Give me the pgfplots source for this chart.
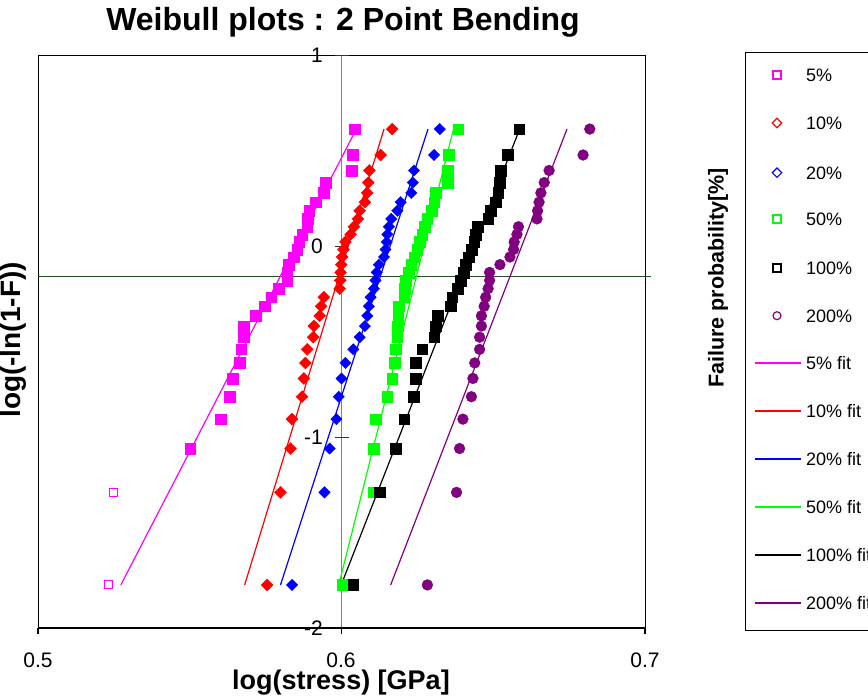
\documentclass[border=0pt]{standalone}
\usepackage{pgfplots}
\pgfplotsset{compat=1.18}
\usepackage{pgfplotstable}
\usepackage{fontspec}
\setmainfont{Liberation Sans}
\definecolor{cmag}{RGB}{255,0,255}
\definecolor{cred}{RGB}{255,0,0}
\definecolor{cblue}{RGB}{0,0,255}
\definecolor{cgreen}{RGB}{0,255,0}
\definecolor{cpurp}{RGB}{128,0,128}
\definecolor{cline}{RGB}{38,77,38}
\definecolor{caxis}{RGB}{128,128,128}

\pgfplotstableread{
i y x5 x10 x20 x50 x100 x200
1 -1.7745 0.5232 0.5755 0.5837 0.6002 0.6039 0.6283
2 -1.2900 0.5249 0.5799 0.5944 0.6105 0.6126 0.6379
3 -1.0604 0.5502 0.5832 0.5961 0.6107 0.6178 0.6389
4 -0.9064 0.5602 0.5837 0.5983 0.6112 0.6206 0.6400
5 -0.7891 0.5631 0.5870 0.5991 0.6151 0.6237 0.6428
6 -0.6935 0.5641 0.5876 0.6000 0.6167 0.6244 0.6433
7 -0.6122 0.5664 0.5881 0.6013 0.6175 0.6244 0.6439
8 -0.5411 0.5669 0.5887 0.6039 0.6178 0.6266 0.6455
9 -0.4774 0.5678 0.5907 0.6060 0.6184 0.6305 0.6455
10 -0.4193 0.5678 0.5909 0.6077 0.6186 0.6310 0.6461
11 -0.3657 0.5718 0.5928 0.6085 0.6187 0.6316 0.6461
12 -0.3157 0.5747 0.5933 0.6090 0.6189 0.6360 0.6470
13 -0.2684 0.5768 0.5942 0.6096 0.6206 0.6365 0.6475
14 -0.2234 0.5793 0.5994 0.6107 0.6209 0.6382 0.6483
15 -0.1802 0.5821 0.5996 0.6112 0.6211 0.6393 0.6488
16 -0.1384 0.5821 0.5997 0.6116 0.6222 0.6402 0.6488
17 -0.0977 0.5826 0.5999 0.6123 0.6230 0.6409 0.6522
18 -0.0578 0.5843 0.6002 0.6140 0.6239 0.6420 0.6555
19 -0.0183 0.5854 0.6006 0.6145 0.6250 0.6428 0.6567
20 0.0211 0.5861 0.6013 0.6149 0.6258 0.6437 0.6569
21 0.0607 0.5870 0.6030 0.6151 0.6266 0.6442 0.6578
22 0.1008 0.5887 0.6041 0.6156 0.6274 0.6448 0.6583
23 0.1419 0.5889 0.6054 0.6164 0.6283 0.6483 0.6644
24 0.1845 0.5894 0.6060 0.6184 0.6297 0.6492 0.6646
25 0.2295 0.5914 0.6077 0.6195 0.6305 0.6508 0.6651
26 0.2781 0.5942 0.6085 0.6230 0.6310 0.6516 0.6657
27 0.3321 0.5947 0.6088 0.6235 0.6349 0.6522 0.6668
28 0.3953 0.6033 0.6092 0.6239 0.6349 0.6525 0.6684
29 0.4765 0.6037 0.6129 0.6305 0.6354 0.6547 0.6796
30 0.6122 0.6043 0.6167 0.6324 0.6385 0.6585 0.6818
}\datatable

\pgfplotstableread{
x y
0.5232 -1.7745
0.5249 -1.2900
}\openfive

\pgfplotstableread{
y f5 f10 f20 f50 f100 f200
-1.7745 0.5273 0.5681 0.5799 0.5991 0.5999 0.6162
0.6122 0.6049 0.6140 0.6285 0.6369 0.6587 0.6743
}\fits

\begin{document}
\begin{tikzpicture}
\path[use as bounding box] (0pt,0pt) rectangle (868pt,697pt);
\begin{axis}[
  at={(38pt,69pt)}, anchor=south west,
  scale only axis, width=607pt, height=573pt,
  xmin=0.5, xmax=0.7, ymin=-2, ymax=1,
  xtick=\empty, ytick=\empty,
  axis line style={black, line width=0.8pt},
  clip=false,
]
% 50% failure line
\addplot[draw=cline, line width=1.6pt] coordinates {(0.5,-0.15917) (0.702,-0.15917)};
% y axis at 0.6
\draw[caxis, line width=1.5pt] (axis cs:0.6,-2) -- (axis cs:0.6,1);
\draw[black!80, line width=0.9pt] ([xshift=-7pt]axis cs:0.6,1) -- ([xshift=7pt]axis cs:0.6,1);
\draw[black!80, line width=0.9pt] ([xshift=-7pt]axis cs:0.6,0) -- ([xshift=7pt]axis cs:0.6,0);
\draw[black!80, line width=0.9pt] ([xshift=-7pt]axis cs:0.6,-1) -- ([xshift=7pt]axis cs:0.6,-1);
\draw[black!80, line width=0.9pt] ([xshift=-7pt]axis cs:0.6,-2) -- ([xshift=7pt]axis cs:0.6,-2);

% data
\addplot[only marks, mark=square*, mark size=5.3pt, mark options={fill=cmag, draw=cmag}]
  table[x=x5, y=y, skip coords between index={0}{2}] {\datatable};
\addplot[only marks, mark=square, mark size=4pt, mark options={draw=cmag, fill=white}, line width=1pt]
  table[x=x, y=y] {\openfive};
\addplot[only marks, mark=square*, mark size=4.2pt, mark options={rotate=45, fill=cred, draw=cred}]
  table[x=x10, y=y] {\datatable};
\addplot[only marks, mark=square*, mark size=4pt, mark options={rotate=45, fill=cblue, draw=cblue}]
  table[x=x20, y=y] {\datatable};
\addplot[only marks, mark=square*, mark size=5.3pt, mark options={fill=cgreen, draw=cgreen}]
  table[x=x50, y=y] {\datatable};
\addplot[only marks, mark=square*, mark size=5.3pt, mark options={fill=black, draw=black}]
  table[x=x100, y=y] {\datatable};
\addplot[only marks, mark=*, mark size=5.4pt, mark options={fill=cpurp, draw=cpurp}]
  table[x=x200, y=y] {\datatable};

% fits
\addplot[no marks, color=cmag, line width=1.2pt] table[x=f5, y=y] {\fits};
\addplot[no marks, color=cred, line width=1.2pt] table[x=f10, y=y] {\fits};
\addplot[no marks, color=cblue, line width=1.2pt] table[x=f20, y=y] {\fits};
\addplot[no marks, color=cgreen, line width=1.2pt] table[x=f50, y=y] {\fits};
\addplot[no marks, color=black, line width=1.2pt] table[x=f100, y=y] {\fits};
\addplot[no marks, color=cpurp, line width=1.2pt] table[x=f200, y=y] {\fits};

% bottom axis
\draw[black, line width=2pt] (axis cs:0.5,-2) -- (axis cs:0.7,-2);
\draw[black, line width=1.2pt] (axis cs:0.5,-2) -- ([yshift=-6pt]axis cs:0.5,-2);
\draw[black, line width=1.2pt] (axis cs:0.6,-2) -- ([yshift=-6pt]axis cs:0.6,-2);
\draw[black, line width=1.2pt] (axis cs:0.7,-2) -- ([yshift=-6pt]axis cs:0.7,-2);
\end{axis}

% legend drawn in its own hidden axis (1 unit = 1pt, page coordinates)
\begin{axis}[
  at={(745pt,67pt)}, anchor=south west,
  scale only axis, width=150pt, height=577.3pt,
  xmin=745, xmax=895, ymin=67, ymax=644.3,
  hide axis, clip=false,
]
\draw[black, line width=0.8pt] (axis cs:900,644.3) -- (axis cs:745,644.3) -- (axis cs:745,67) -- (axis cs:900,67);
% open markers
\addplot[only marks, mark=square, mark size=4pt, mark options={draw=cmag, fill=white}, line width=1.2pt] coordinates {(777,622)};
\addplot[only marks, mark=square, mark size=3.3pt, mark options={rotate=45, draw=cred, fill=white}, line width=1.2pt] coordinates {(777,574)};
\addplot[only marks, mark=square, mark size=3.3pt, mark options={rotate=45, draw=cblue, fill=white}, line width=1.2pt] coordinates {(777,524.3)};
\addplot[only marks, mark=square, mark size=4pt, mark options={draw=cgreen, fill=white}, line width=1.2pt] coordinates {(777,478)};
\addplot[only marks, mark=square, mark size=4pt, mark options={draw=black, fill=white}, line width=1.2pt] coordinates {(777,429)};
\addplot[only marks, mark=o, mark size=4pt, mark options={draw=cpurp, fill=white}, line width=1.2pt] coordinates {(777,381.3)};
% fit line samples
\addplot[no marks, draw=cmag, line width=1.4pt] coordinates {(755,334) (801,334)};
\addplot[no marks, draw=cred, line width=1.4pt] coordinates {(755,286) (801,286)};
\addplot[no marks, draw=cblue, line width=1.4pt] coordinates {(755,238) (801,238)};
\addplot[no marks, draw=cgreen, line width=1.4pt] coordinates {(755,190) (801,190)};
\addplot[no marks, draw=black, line width=1.4pt] coordinates {(755,142) (801,142)};
\addplot[no marks, draw=cpurp, line width=1.4pt] coordinates {(755,94) (801,94)};
\end{axis}

% legend texts
\begingroup
\fontsize{18}{20}\selectfont
\node[anchor=base west, inner sep=0pt] at (806pt,615.5pt) {5\%};
\node[anchor=base west, inner sep=0pt] at (806pt,567.5pt) {10\%};
\node[anchor=base west, inner sep=0pt] at (806pt,517.8pt) {20\%};
\node[anchor=base west, inner sep=0pt] at (806pt,471.5pt) {50\%};
\node[anchor=base west, inner sep=0pt] at (806pt,422.5pt) {100\%};
\node[anchor=base west, inner sep=0pt] at (806pt,374.8pt) {200\%};
\node[anchor=base west, inner sep=0pt] at (806pt,327.5pt) {5\% fit};
\node[anchor=base west, inner sep=0pt] at (806pt,279.5pt) {10\% fit};
\node[anchor=base west, inner sep=0pt] at (806pt,231.5pt) {20\% fit};
\node[anchor=base west, inner sep=0pt] at (806pt,183.5pt) {50\% fit};
\node[anchor=base west, inner sep=0pt] at (806pt,135.5pt) {100\% fit};
\node[anchor=base west, inner sep=0pt] at (806pt,87.5pt) {200\% fit};
\endgroup

% y tick labels
\begingroup
\fontsize{21}{24}\selectfont
\node[anchor=east, inner sep=0pt] at (323pt,642pt) {1};
\node[anchor=east, inner sep=0pt] at (323pt,451pt) {0};
\node[anchor=east, inner sep=0pt] at (323pt,260pt) {-1};
\node[anchor=east, inner sep=0pt] at (323pt,69pt) {-2};
% x tick labels
\node[inner sep=0pt] at (38pt,37pt) {0.5};
\node[inner sep=0pt] at (341pt,37pt) {0.6};
\node[inner sep=0pt] at (645pt,37pt) {0.7};
\endgroup

% titles
\node[font=\fontsize{32}{36}\selectfont\bfseries, inner sep=0pt] at (343pt,675pt) {Weibull plots : 2 Point Bending};
\node[font=\fontsize{27}{31}\selectfont\bfseries, inner sep=0pt] at (341pt,14pt) {log(stress) [GPa]};
\node[font=\fontsize{28}{32}\selectfont\bfseries, inner sep=0pt, rotate=90] at (13pt,357pt) {log(-ln(1-F))};
\node[font=\fontsize{21.5}{24}\selectfont\bfseries, inner sep=0pt, rotate=90] at (718pt,419pt) {Failure probability[\%]};
\end{tikzpicture}
\end{document}
